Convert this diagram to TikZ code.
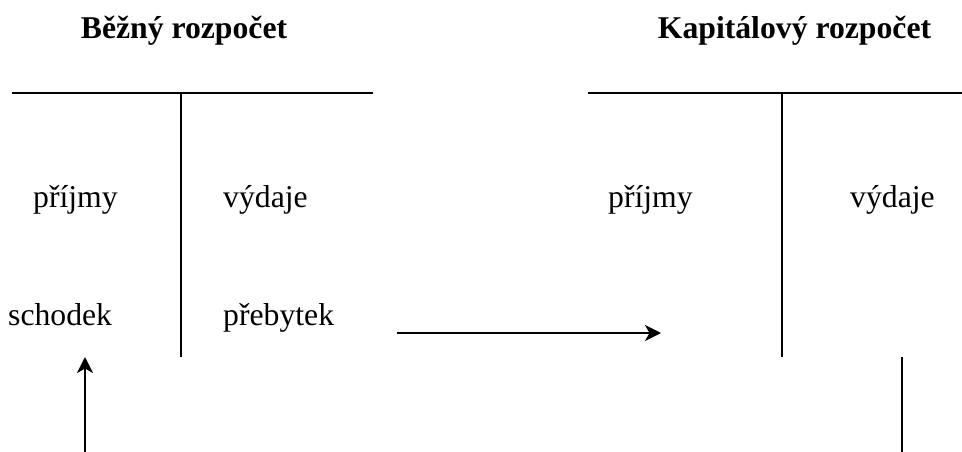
\documentclass[tikz,border=0pt]{standalone}
\usepackage{fontspec}
\setmainfont{Liberation Serif}
\usetikzlibrary{arrows.meta}
\begin{document}
\begin{tikzpicture}[x=1pt,y=-1pt,
  txt/.style={inner sep=0pt,anchor=base west,font=\fontsize{31.7}{38}\selectfont},
  ttl/.style={inner sep=0pt,anchor=base,font=\fontsize{31.7}{38}\selectfont\bfseries},
  rule/.style={line width=2pt},
  flow/.style={line width=2pt,-{Stealth[length=16pt,width=16pt,inset=4.5pt]}}]
\useasboundingbox (0,0) rectangle (962,452);

% headings
\node[ttl] (t1) at (184,39) {Běžný rozpočet};
\node[ttl] (t2) at (794.5,39) {Kapitálový rozpočet};

% current budget T-account
\coordinate (a1) at (12,93);
\coordinate (a2) at (373,93);
\coordinate (a3) at (181,93);
\coordinate (a4) at (181,357);
\draw[rule] (a1) -- (a2);
\draw[rule] (a3) -- (a4);

% capital budget T-account
\coordinate (b1) at (588,93);
\coordinate (b2) at (962,93);
\coordinate (b3) at (782,93);
\coordinate (b4) at (782,357);
\draw[rule] (b1) -- (b2);
\draw[rule] (b3) -- (b4);

% entries
\node[txt] (p1) at (33,207) {příjmy};
\node[txt] (v1) at (223,207) {výdaje};
\node[txt] (s1) at (8,325) {schodek};
\node[txt] (pr1) at (223,325) {přebytek};
\node[txt] (p2) at (608,207) {příjmy};
\node[txt] (v2) at (850,207) {výdaje};

% transfers
\coordinate (f1) at (397,333);
\coordinate (f2) at (661,333);
\draw[flow] (f1) -- (f2);

\coordinate (u1) at (85,452);
\coordinate (u2) at (85,357);
\draw[flow] (u1) -- (u2);

\coordinate (d1) at (902,357);
\coordinate (d2) at (902,452);
\draw[rule] (d1) -- (d2);
\end{tikzpicture}
\end{document}
